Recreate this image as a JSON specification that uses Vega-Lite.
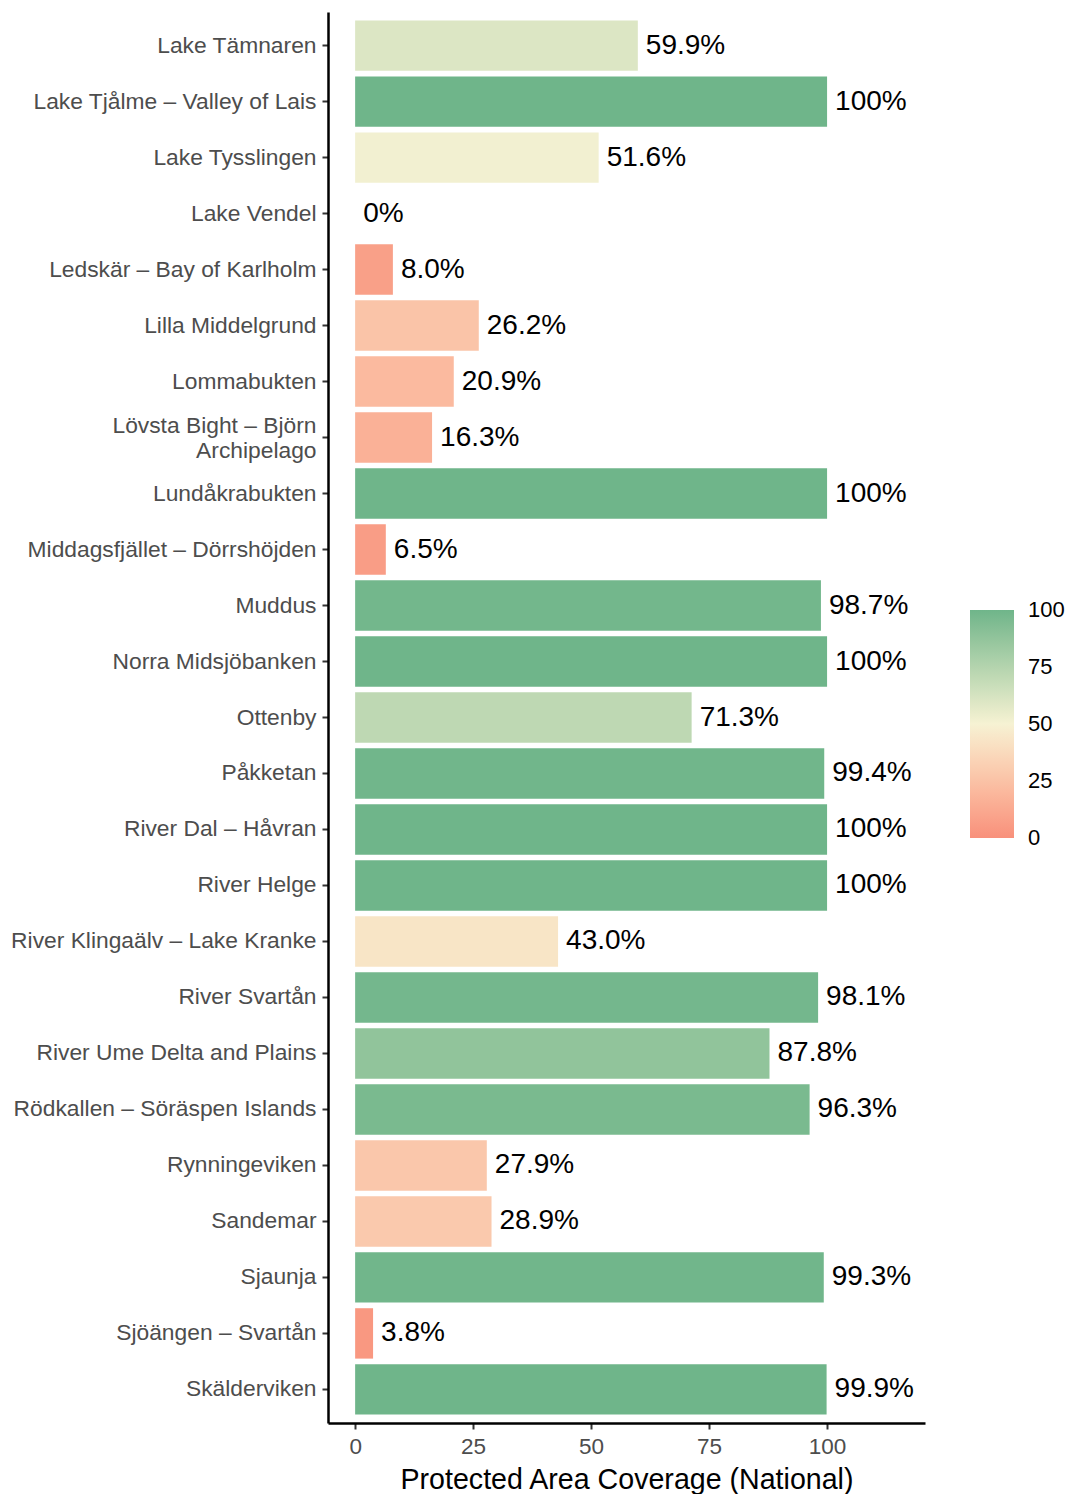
{
  "$schema": "https://vega.github.io/schema/vega-lite/v6.json",
  "width": 597,
  "height": 1411,
  "autosize": {"type": "none"},
  "padding": {"left": 328, "top": 12, "right": 143, "bottom": 71},
  "background": "white",
  "config": {
    "view": {"stroke": null},
    "font": "Liberation Sans"
  },
  "data": {
    "values": [
      {"site": "Lake Tämnaren", "coverage": 59.9, "label": "59.9%"},
      {"site": "Lake Tjålme – Valley of Lais", "coverage": 100, "label": "100%"},
      {"site": "Lake Tysslingen", "coverage": 51.6, "label": "51.6%"},
      {"site": "Lake Vendel", "coverage": 0, "label": "0%"},
      {"site": "Ledskär – Bay of Karlholm", "coverage": 8.0, "label": "8.0%"},
      {"site": "Lilla Middelgrund", "coverage": 26.2, "label": "26.2%"},
      {"site": "Lommabukten", "coverage": 20.9, "label": "20.9%"},
      {"site": "Lövsta Bight – Björn\nArchipelago", "coverage": 16.3, "label": "16.3%"},
      {"site": "Lundåkrabukten", "coverage": 100, "label": "100%"},
      {"site": "Middagsfjället – Dörrshöjden", "coverage": 6.5, "label": "6.5%"},
      {"site": "Muddus", "coverage": 98.7, "label": "98.7%"},
      {"site": "Norra Midsjöbanken", "coverage": 100, "label": "100%"},
      {"site": "Ottenby", "coverage": 71.3, "label": "71.3%"},
      {"site": "Påkketan", "coverage": 99.4, "label": "99.4%"},
      {"site": "River Dal – Håvran", "coverage": 100, "label": "100%"},
      {"site": "River Helge", "coverage": 100, "label": "100%"},
      {"site": "River Klingaälv – Lake Kranke", "coverage": 43.0, "label": "43.0%"},
      {"site": "River Svartån", "coverage": 98.1, "label": "98.1%"},
      {"site": "River Ume Delta and Plains", "coverage": 87.8, "label": "87.8%"},
      {"site": "Rödkallen – Söräspen Islands", "coverage": 96.3, "label": "96.3%"},
      {"site": "Rynningeviken", "coverage": 27.9, "label": "27.9%"},
      {"site": "Sandemar", "coverage": 28.9, "label": "28.9%"},
      {"site": "Sjaunja", "coverage": 99.3, "label": "99.3%"},
      {"site": "Sjöängen – Svartån", "coverage": 3.8, "label": "3.8%"},
      {"site": "Skälderviken", "coverage": 99.9, "label": "99.9%"}
    ]
  },
  "encoding": {
    "y": {
      "field": "site",
      "type": "nominal",
      "sort": null,
      "scale": {"paddingInner": 0.1, "paddingOuter": 0.15},
      "axis": {
        "title": null,
        "labelExpr": "split(datum.label, '\\n')",
        "labelFontSize": 22.8,
        "labelColor": "#4D4D4D",
        "labelLineHeight": 25,
        "labelOffset": {"condition": {"test": "indexof(datum.label, '\\n') >= 0", "value": -12}, "value": 0},
        "labelPadding": 6,
        "labelLimit": 400,
        "tickSize": 6,
        "tickWidth": 2,
        "tickColor": "#333333",
        "domainColor": "black",
        "domainWidth": 2.5
      }
    },
    "x": {
      "field": "coverage",
      "type": "quantitative",
      "scale": {"domain": [-5.75, 120.75], "nice": false, "zero": false},
      "axis": {
        "title": "Protected Area Coverage (National)",
        "titleFontSize": 28.6,
        "titleFontWeight": "normal",
        "titleColor": "black",
        "titlePadding": 8,
        "values": [0, 25, 50, 75, 100],
        "grid": false,
        "labelFontSize": 22.5,
        "labelColor": "#4D4D4D",
        "labelPadding": 6,
        "tickSize": 6,
        "tickWidth": 2,
        "tickColor": "#333333",
        "domainColor": "black",
        "domainWidth": 2.5
      }
    }
  },
  "layer": [
    {
      "mark": {"type": "bar"},
      "encoding": {
        "x2": {"datum": 0},
        "color": {
          "field": "coverage",
          "type": "quantitative",
          "scale": {
            "domain": [0, 50, 100],
            "range": ["#F8907B", "#F6F2D3", "#6FB58A"],
            "interpolate": "lab"
          },
          "legend": {
            "title": null,
            "orient": "none",
            "legendX": 642,
            "legendY": 598,
            "direction": "vertical",
            "gradientLength": 228,
            "gradientThickness": 44,
            "gradientStrokeWidth": 0,
            "values": [0, 25, 50, 75, 100],
            "labelFontSize": 22,
            "labelColor": "black",
            "labelOffset": 14,
            "labelBaseline": "middle",
            "labelOverlap": false,
            "padding": 0,
            "encode": {
              "labels": {"update": {"baseline": {"value": "middle"}}}
            }
          }
        }
      }
    },
    {
      "mark": {
        "type": "text",
        "align": "left",
        "baseline": "middle",
        "dx": 8,
        "fontSize": 28,
        "color": "black"
      },
      "encoding": {
        "text": {"field": "label"}
      }
    }
  ]
}
